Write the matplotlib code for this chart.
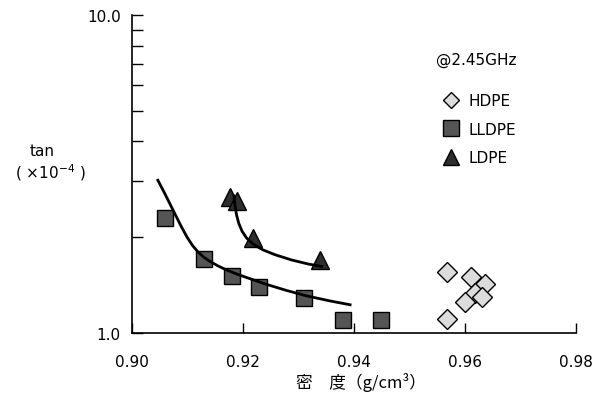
import numpy as np
import matplotlib
matplotlib.use("Agg")
import matplotlib.pyplot as plt
from matplotlib.lines import Line2D
from matplotlib.ticker import FixedLocator, NullFormatter

plt.rcParams['font.family'] = ['DejaVu Sans']
plt.rcParams['mathtext.default'] = 'regular'

# --- data ---
hdpe_density = [0.9569, 0.9611, 0.9637, 0.9619, 0.9631, 0.9601, 0.9569]
hdpe_tan = [1.556, 1.494, 1.423, 1.333, 1.292, 1.252, 1.104]

lldpe_density = [0.906, 0.913, 0.918, 0.923, 0.931, 0.938, 0.945]
lldpe_tan = [2.30, 1.70, 1.51, 1.39, 1.29, 1.10, 1.10]

ldpe_density = [0.9177, 0.9190, 0.9219, 0.9339]
ldpe_tan = [2.68, 2.59, 1.99, 1.69]

# trend curves
lldpe_fit_x = [0.9046, 0.9060, 0.9075, 0.9090, 0.9100, 0.9110, 0.9120,
               0.9130, 0.9140, 0.9155, 0.9170, 0.9190, 0.9213, 0.9243,
               0.9279, 0.9315, 0.9357, 0.9396]
lldpe_fit_y = [3.046, 2.733, 2.421, 2.147, 1.995, 1.877, 1.791,
               1.728, 1.681, 1.624, 1.578, 1.528, 1.479, 1.419,
               1.358, 1.306, 1.259, 1.222]
ldpe_fit_x = [0.9184, 0.9186, 0.9189, 0.9193, 0.9199, 0.9207, 0.9219,
              0.9236, 0.9258, 0.9288, 0.9318, 0.9345]
ldpe_fit_y = [2.720, 2.518, 2.344, 2.208, 2.084, 1.986, 1.899,
              1.824, 1.760, 1.694, 1.645, 1.613]

x_ticks = [0.90, 0.92, 0.94, 0.96, 0.98]
x_tick_labels = ["0.90", "0.92", "0.94", "0.96", "0.98"]
y_ticks = [1.0, 10.0]
y_tick_labels = ["1.0", "10.0"]

fig = plt.figure(figsize=(5.97, 4.14), dpi=100)
ax = fig.add_axes([0.2206, 0.194, 0.7437, 0.7674])

ax.plot(hdpe_density, hdpe_tan, 'D', ms=10, mfc='#dcdcdc', mec='black', mew=1.0,
        zorder=3)
ax.plot(lldpe_density, lldpe_tan, 's', ms=12, mfc='#555555', mec='black', mew=1.0,
        zorder=3)
ax.plot(ldpe_density, ldpe_tan, '^', ms=13, mfc='#2e2e2e', mec='black', mew=1.0,
        zorder=3)
ax.plot(lldpe_fit_x, lldpe_fit_y, '-', color='black', lw=2.0, zorder=4,
        solid_capstyle='butt', solid_joinstyle='round')
ax.plot(ldpe_fit_x, ldpe_fit_y, '-', color='black', lw=2.0, zorder=4,
        solid_capstyle='butt', solid_joinstyle='round')

ax.set_yscale('log')
ax.set_xlim(0.90, 0.98)
ax.set_ylim(1.0, 10.0)
ax.set_xticks(x_ticks)
ax.set_xticklabels(x_tick_labels, fontsize=11)
ax.set_yticks(y_ticks)
ax.set_yticklabels(y_tick_labels, fontsize=11)
ax.yaxis.set_minor_locator(FixedLocator(np.arange(2, 10)))
ax.yaxis.set_minor_formatter(NullFormatter())

ax.tick_params(axis='x', which='major', direction='in', length=7, width=1,
               pad=15)
ax.tick_params(axis='y', which='major', direction='in', length=8, width=1,
               pad=8)
ax.tick_params(axis='y', which='minor', direction='in', length=8, width=1)
for s in ['top', 'right']:
    ax.spines[s].set_visible(False)
for s in ['left', 'bottom']:
    ax.spines[s].set_linewidth(1.2)

# legend
handles = [
    Line2D([], [], ls='none', marker='D', ms=8, mfc='#dcdcdc', mec='black', mew=1.0),
    Line2D([], [], ls='none', marker='s', ms=11, mfc='#555555', mec='black', mew=1.0),
    Line2D([], [], ls='none', marker='^', ms=11, mfc='#2e2e2e', mec='black', mew=1.0),
]
ax.legend(handles, ['HDPE', 'LLDPE', 'LDPE'], loc='upper left',
          bbox_to_anchor=(0.689, 0.773), frameon=False, fontsize=11,
          handlelength=1.0, handletextpad=0.6, labelspacing=0.88,
          borderaxespad=0)
fig.text(0.797, 0.855, '@2.45GHz', fontsize=11, ha='center', va='center')

# axis labels
fig.text(0.070, 0.634, 'tan', fontsize=11, ha='center', va='center')
fig.text(0.084, 0.583, '( ×10$^{-4}$ )', fontsize=11, ha='center', va='center')
fig.text(0.605, 0.075, '密　度（g/cm³）', fontsize=12, ha='center', va='center',
         family=['Noto Sans CJK JP', 'DejaVu Sans'])

fig.savefig('out.png', dpi=100)
